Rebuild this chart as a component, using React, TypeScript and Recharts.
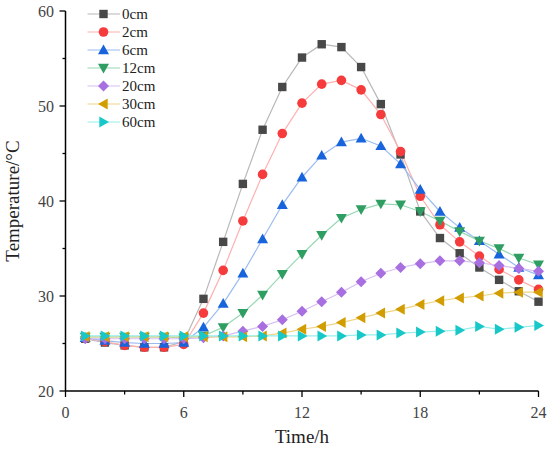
import React from 'react';
import { LineChart, Line, XAxis, YAxis } from 'recharts';

const hours = [1, 2, 3, 4, 5, 6, 7, 8, 9, 10, 11, 12, 13, 14, 15, 16, 17, 18, 19, 20, 21, 22, 23, 24];
const cm0 = [25.5, 25.1, 24.8, 24.6, 24.6, 25.2, 29.7, 35.7, 41.8, 47.5, 52.0, 55.1, 56.5, 56.2, 54.1, 50.2, 44.9, 38.9, 36.1, 34.5, 33.0, 31.7, 30.5, 29.4];
const cm2 = [25.6, 25.2, 24.8, 24.6, 24.6, 24.9, 28.2, 32.7, 37.9, 42.8, 47.1, 50.3, 52.3, 52.7, 51.7, 49.1, 45.2, 40.5, 37.5, 35.7, 34.2, 32.8, 31.7, 30.7];
const cm6 = [25.6, 25.3, 25.1, 25.0, 25.0, 25.1, 26.7, 29.2, 32.4, 36.0, 39.6, 42.5, 44.8, 46.2, 46.6, 45.8, 43.9, 41.2, 38.9, 37.2, 35.8, 34.4, 33.0, 32.2];
const cm12 = [25.7, 25.7, 25.7, 25.7, 25.7, 25.6, 25.8, 26.7, 28.2, 30.1, 32.3, 34.4, 36.4, 38.2, 39.1, 39.7, 39.6, 38.9, 37.9, 36.8, 35.8, 35.0, 34.0, 33.3];
const cm20 = [25.5, 25.5, 25.5, 25.5, 25.5, 25.5, 25.6, 25.8, 26.3, 26.8, 27.5, 28.4, 29.4, 30.4, 31.5, 32.4, 33.0, 33.4, 33.7, 33.7, 33.5, 33.2, 32.9, 32.6];
const cm30 = [25.7, 25.7, 25.7, 25.7, 25.7, 25.7, 25.7, 25.7, 25.7, 25.8, 26.1, 26.5, 26.8, 27.2, 27.7, 28.2, 28.6, 29.1, 29.5, 29.8, 30.0, 30.3, 30.4, 30.4];
const cm60 = [25.8, 25.8, 25.8, 25.8, 25.8, 25.8, 25.8, 25.8, 25.8, 25.8, 25.8, 25.8, 25.8, 25.8, 25.9, 25.9, 26.1, 26.2, 26.3, 26.4, 26.8, 26.5, 26.7, 26.9];

const seriesNames = ['0cm', '2cm', '6cm', '12cm', '20cm', '30cm', '60cm'];
const seriesValues = [cm0, cm2, cm6, cm12, cm20, cm30, cm60];
const xTicks = [0, 3, 6, 9, 12, 15, 18, 21, 24];
const yTicks = [20, 25, 30, 35, 40, 45, 50, 55, 60];

const shapes = ['square', 'circle', 'up', 'down', 'diamond', 'left', 'right'];
const markerColors = ['#484848', '#f53b3b', '#1764dc', '#2f9e62', '#a86fe0', '#d19d00', '#18c8c8'];
const lineColors = ['#b8b8b8', '#ffb0b0', '#9abcf0', '#98d8b4', '#d8bdf4', '#eed585', '#96eeee'];

const data = hours.map((h, i) => {
  const row: Record<string, number> = { hour: h };
  seriesNames.forEach((n, k) => {
    row[n] = seriesValues[k][i];
  });
  return row;
});

const FONT = '"Liberation Serif", "Times New Roman", serif';

function Marker({ cx, cy, shape, fill }: { cx: number; cy: number; shape: string; fill: string }) {
  const s = 5.5;
  switch (shape) {
    case 'square':
      return <rect x={cx - 4.2} y={cy - 4.2} width={8.4} height={8.4} fill={fill} />;
    case 'circle':
      return <circle cx={cx} cy={cy} r={4.8} fill={fill} />;
    case 'up':
      return <polygon points={`${cx},${cy - s} ${cx + s},${cy + 4.2} ${cx - s},${cy + 4.2}`} fill={fill} />;
    case 'down':
      return <polygon points={`${cx},${cy + s} ${cx + s},${cy - 4.2} ${cx - s},${cy - 4.2}`} fill={fill} />;
    case 'diamond':
      return <polygon points={`${cx},${cy - s} ${cx + s},${cy} ${cx},${cy + s} ${cx - s},${cy}`} fill={fill} />;
    case 'left':
      return <polygon points={`${cx - s},${cy} ${cx + 4.2},${cy - s} ${cx + 4.2},${cy + s}`} fill={fill} />;
    case 'right':
      return <polygon points={`${cx + s},${cy} ${cx - 4.2},${cy - s} ${cx - 4.2},${cy + s}`} fill={fill} />;
    default:
      return null;
  }
}

const XTick = (props: any) => {
  const { x, y, payload } = props;
  const major = payload.value % 6 === 0;
  return (
    <g>
      <line x1={x} x2={x} y1={y} y2={y + (major ? 6 : 3.5)} stroke="#000" strokeWidth={1.3} />
      {major && (
        <text x={x} y={y + 27} textAnchor="middle" fontSize={16} fill="#444" fontFamily={FONT}>
          {payload.value}
        </text>
      )}
    </g>
  );
};

const YTick = (props: any) => {
  const { x, y, payload } = props;
  const major = payload.value % 10 === 0;
  return (
    <g>
      <line x1={x} x2={x - (major ? 6 : 3)} y1={y} y2={y} stroke="#000" strokeWidth={1.3} />
      {major && (
        <text x={x - 11.5} y={y + 5.5} textAnchor="end" fontSize={16} fill="#444" fontFamily={FONT}>
          {payload.value}
        </text>
      )}
    </g>
  );
};

const LegendBox = () => (
  <div style={{ position: 'absolute', left: 86, top: 5.5, fontFamily: FONT, fontSize: 15, color: '#222' }}>
    {seriesNames.map((n, k) => (
      <div key={n} style={{ display: 'flex', alignItems: 'center', height: 17.9 }}>
        <svg width={36} height={14} style={{ display: 'block' }}>
          <line x1={1.5} x2={34} y1={7} y2={7} stroke={lineColors[k]} strokeWidth={1.2} />
          <Marker cx={17.5} cy={7} shape={shapes[k]} fill={markerColors[k]} />
        </svg>
        <span style={{ lineHeight: '14px' }}>{n}</span>
      </div>
    ))}
  </div>
);

export default function App() {
  return (
    <div style={{ position: 'absolute', left: 0, top: 0, width: 550, height: 451, background: '#fff' }}>
      <LineChart width={550} height={451} data={data} margin={{ top: 11, right: 11.5, left: 0, bottom: 0 }}>
        <XAxis
          dataKey="hour"
          type="number"
          domain={[0, 24]}
          ticks={xTicks}
          interval={0}
          tick={XTick}
          tickLine={false}
          tickSize={0}
          tickMargin={0}
          height={60}
          axisLine={{ stroke: '#000', strokeWidth: 1.5 }}
          label={(p: any) => {
            const vb = p.viewBox;
            return (
              <text x={vb.x + vb.width / 2} y={vb.y + 52} textAnchor="middle" fontSize={19} fill="#222" fontFamily={FONT}>
                Time/h
              </text>
            );
          }}
        />
        <YAxis
          type="number"
          domain={[20, 60]}
          ticks={yTicks}
          interval={0}
          tick={YTick}
          tickLine={false}
          tickSize={0}
          tickMargin={0}
          width={65.5}
          axisLine={{ stroke: '#000', strokeWidth: 1.5 }}
          label={(p: any) => {
            const vb = p.viewBox;
            const cy = vb.y + vb.height / 2;
            return (
              <text x={19} y={cy} transform={`rotate(-90, 19, ${cy})`} textAnchor="middle" fontSize={19} fill="#222" fontFamily={FONT}>
                Temperature/°C
              </text>
            );
          }}
        />
        {seriesNames.map((n, k) => (
          <Line
            key={n}
            dataKey={n}
            stroke={lineColors[k]}
            strokeWidth={1.2}
            isAnimationActive={false}
            dot={(p: any) => <Marker key={`${n}-${p.index}`} cx={p.cx} cy={p.cy} shape={shapes[k]} fill={markerColors[k]} />}
            activeDot={false}
            legendType="none"
          />
        ))}
      </LineChart>
      <LegendBox />
    </div>
  );
}
